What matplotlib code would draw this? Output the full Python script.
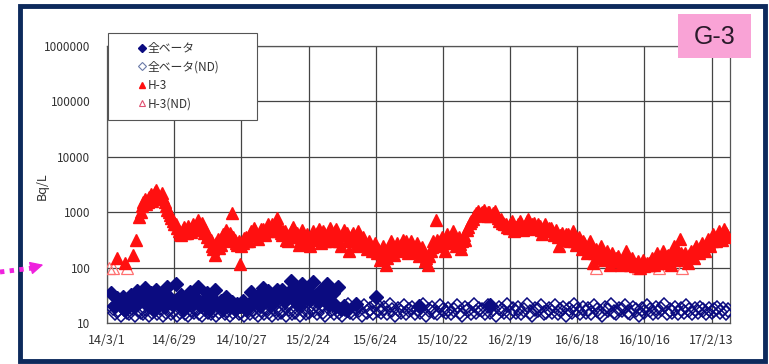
import numpy as np
import pandas as pd
import matplotlib
matplotlib.use("Agg")
import matplotlib.pyplot as plt
from matplotlib.patches import Rectangle, FancyArrowPatch
from matplotlib.lines import Line2D

plt.rcParams['font.family'] = ['Noto Sans CJK JP', 'DejaVu Sans']

# ---- data ----
# H-3, sparse start
h3_early_dates = ['2014-03-19', '2014-04-02', '2014-04-16', '2014-04-22']
h3_early = [150, 120, 170, 320]

# H-3, every 5 days from 2014-04-28
h3_start = '2014-04-28'
h3 = [
    820, 1300, 1700, 1500, 2100, 1800, 2500, 1900, 2200, 1500, 1100, 900, 700,
    600, 450, 380, 550, 420, 500,
    620, 480, 720, 560, 420, 350, 300,
    250, 170, 330, 260, 400, 480,
    380, 950, 320, 260, 115, 280,
    350, 300, 450, 520, 380, 420,
    500, 380, 620, 450, 560, 780,
    500, 380, 450, 300, 420, 550,
    350, 260, 480, 300, 400, 250,
    450, 320, 500, 280, 420, 350,
    520, 300, 450, 380, 250, 480,
    420, 200, 380, 300, 450, 320,
    350, 260, 300, 200, 280, 180,
    140, 250, 110, 200, 300, 170,
    280, 200, 320, 250, 180, 300, 220,
    280, 160, 240, 130, 110, 200,
    300, 720, 250, 350, 200, 400,
    300, 450, 250, 350, 220, 380,
    480, 650, 750, 900, 1050, 950,
    1100, 850, 1000, 900, 1050, 800,
    750, 650, 600, 520, 680, 450,
    550, 700, 480, 620, 750, 500,
    650, 520, 560, 400, 600, 480,
    520, 380, 480, 250, 420, 350,
    400, 300, 450, 260, 350, 220,
    280, 180, 300, 120, 220, 150,
    250, 140, 200, 110, 180, 130,
    160, 110, 140, 200, 120, 150,
    105, 130, 100, 140, 110, 120,
    150, 110, 180, 130, 200, 120,
    170, 110, 250, 140, 330, 150,
    180, 120, 200, 150, 250, 180,
    280, 200, 330, 250, 400, 300,
    450, 320, 500, 380,
]

# H-3, the in-between samples, every 5 days from 2014-04-30
h3_b_start = '2014-04-30'
h3_b = [
    1000, 1500, 1400, 1900, 1600, 2300, 2000, 1700, 1800, 1300, 1000, 800, 600,
    520, 400, 480, 420, 560, 440,
    520, 600, 500, 640, 480, 380, 320,
    220, 280, 230, 350, 300, 420,
    420, 350, 280, 300, 250, 340,
    300, 400, 380, 460, 330, 500,
    420, 520, 480, 600, 450, 620,
    420, 460, 320, 380, 480, 350,
    420, 300, 380, 350, 280, 330,
    380, 420, 330, 450, 300, 400,
    400, 350, 500, 300, 380, 420,
    330, 300, 420, 250, 380, 280,
    280, 220, 260, 240, 200, 220,
    180, 200, 150, 230, 250, 220,
    230, 260, 220, 300, 230, 250, 190,
    220, 200, 170, 150, 160, 240,
    260, 320, 300, 280, 320, 300,
    360, 280, 300, 270, 300, 320,
    550, 700, 850, 950, 900, 1000,
    950, 1000, 850, 950, 900, 700,
    650, 600, 550, 600, 520, 550,
    620, 600, 550, 700, 580, 620,
    550, 600, 480, 520, 450, 520,
    450, 420, 350, 380, 320, 400,
    330, 350, 300, 320, 280, 300,
    230, 240, 200, 180, 190, 200,
    180, 170, 160, 150, 140, 150,
    130, 140, 120, 130, 110, 120,
    115, 110, 120, 105, 120, 110,
    130, 140, 120, 150, 140, 160,
    140, 180, 160, 200, 180, 170,
    150, 170, 180, 220, 200, 230,
    230, 260, 280, 300, 350, 330,
    400, 380, 420, 350,
]

# H-3 below detection limit
h3_nd_dates = ['2014-03-05', '2014-03-12', '2014-04-05', '2016-07-22',
               '2016-10-05', '2016-11-12', '2016-12-22']
h3_nd = [100, 100, 100, 100, 100, 100, 100]

# gross beta (detected), every 5 days from 2014-03-09
beta_start = '2014-03-09'
beta = [
    35, 20, 28, 22, 30, 18, 25, 32, 20, 38, 24, 30,
    42, 22, 35, 18, 40, 26, 33, 20, 45, 28, 22, 50,
    25, 32, 18, 28, 36, 22, 30, 45, 20, 26, 35, 18,
    28, 40, 22, 25, 18, 30, 20, 24, 18, 22, 20, 25,
    18, 22, 36, 24, 30, 20, 43, 26, 38, 22, 30, 40,
    30, 40, 25, 35, 58, 28, 38, 22, 50, 30, 40, 26,
    55, 32, 25, 40, 28, 50, 22, 35, 20, 45, 18, 20, 17,
]
beta_extra_dates = ['2015-05-20', '2015-06-25', '2015-09-10', '2016-01-15']
beta_extra = [22, 30, 20, 21]

# gross beta below detection limit, every 5 days from 2014-03-11
beta_nd_start = '2014-03-11'
beta_nd = [
    19, 15, 17, 14, 18, 16, 15, 19, 14, 17, 16, 15,
    18, 14, 16, 17, 15, 19, 14, 16, 18, 15, 17, 14,
    16, 18, 15, 14, 17, 16, 19, 15, 14, 18, 16, 15,
    17, 14, 16, 19, 15, 17, 14, 16, 18, 15, 16, 14,
    17, 15, 18, 16, 14, 17, 15, 19, 16, 14, 18, 15,
    16, 17, 14, 18, 15, 16, 19, 14, 17, 15, 16, 18,
    17, 15, 19, 16, 14, 22, 17, 15, 20, 16, 14, 18,
    21, 16, 15, 19, 17, 14, 20, 16, 18, 15, 22, 17,
    16, 19, 15, 21, 17, 14, 18, 16, 20, 15, 17, 19,
    15, 18, 16, 21, 14, 17, 19, 16, 15, 20, 17, 16,
    18, 15, 17, 20, 16, 14, 19, 17, 15, 21, 16, 18,
    17, 15, 20, 16, 18, 14, 19, 17, 16, 21, 15, 18,
    16, 19, 15, 17, 21, 16, 14, 18, 17, 20, 15, 16,
    18, 16, 20, 15, 17, 19, 14, 18, 16, 21, 17, 15,
    19, 16, 18, 15, 20, 17, 16, 14, 19, 17, 21, 16,
    15, 18, 17, 20, 16, 15, 19, 17, 14, 18, 16, 20,
    17, 15, 19, 16, 18, 21, 15, 17, 16, 19, 15, 18,
    16, 20, 17, 15, 18, 16, 19, 17, 15, 18, 16, 17,
    19, 16, 18, 15, 17,
]

tick_dates = ['2014-03-01', '2014-06-29', '2014-10-27', '2015-02-24', '2015-06-24',
              '2015-10-22', '2016-02-19', '2016-06-18', '2016-10-16', '2017-02-13']
tick_labels = ['14/3/1', '14/6/29', '14/10/27', '15/2/24', '15/6/24',
               '15/10/22', '16/2/19', '16/6/18', '16/10/16', '17/2/13']
y_ticks = [10, 100, 1000, 10000, 100000, 1000000]
legend_labels = ['全ベータ', '全ベータ(ND)', 'H-3', 'H-3(ND)']

navy = '#0b0b80'
red = '#ff1010'

fig = plt.figure(figsize=(7.69, 3.64), dpi=100)
W, H = 769, 364
ax = fig.add_axes([107 / W, 1 - 323 / H, (730 - 107) / W, (323 - 46) / H])

d_h3 = pd.date_range(h3_start, periods=len(h3), freq='5D')
d_h3_b = pd.date_range(h3_b_start, periods=len(h3_b), freq='5D')
d_beta = pd.date_range(beta_start, periods=len(beta), freq='5D')
d_beta_nd = pd.date_range(beta_nd_start, periods=len(beta_nd), freq='5D')

ax.plot(d_beta_nd, beta_nd, ls='none', marker='D', ms=7, mfc='none',
        mec=navy, mew=1.1, zorder=3)
ax.plot(d_beta, beta, ls='none', marker='D', ms=7.5, color=navy, zorder=4)
ax.plot(pd.to_datetime(beta_extra_dates), beta_extra, ls='none', marker='D',
        ms=7.5, color=navy, zorder=4)
ax.plot(pd.to_datetime(h3_nd_dates), h3_nd, ls='none', marker='^', ms=9,
        mfc='none', mec='#ff7070', mew=0.9, zorder=3)
ax.plot(pd.to_datetime(h3_early_dates), h3_early, ls='none', marker='^', ms=9,
        color=red, zorder=4)
ax.plot(d_h3, h3, ls='none', marker='^', ms=9, color=red, zorder=4)
ax.plot(d_h3_b, h3_b, ls='none', marker='^', ms=9, color=red, zorder=4)

ax.set_yscale('log')
ax.set_ylim(10, 1000000)
ax.set_xlim(pd.Timestamp('2014-03-01'), pd.Timestamp('2017-03-18'))
ax.set_xticks(pd.to_datetime(tick_dates))
ax.set_xticklabels(tick_labels, fontsize=9, color='#333333')
ax.set_yticks(y_ticks)
ax.set_yticklabels([str(v) for v in y_ticks], fontsize=8.5, color='#333333')
ax.minorticks_off()
ax.tick_params(length=0, pad=8)
ax.tick_params(axis='y', pad=12)
ax.grid(True, color='#444444', lw=0.9)
ax.set_axisbelow(True)
for s in ax.spines.values():
    s.set_color('#555555')
    s.set_linewidth(0.9)

fig.text(42 / W, 1 - 186 / H, 'Bq/L', rotation=90, ha='center', va='center',
         fontsize=9, color='#333333')

# legend box
box = Rectangle((108 / W, 1 - 120 / H), (257 - 108) / W, (120 - 33) / H,
                transform=fig.transFigure, facecolor='white', edgecolor='#555555',
                lw=0.8, zorder=5)
fig.patches.append(box)
handles = [
    Line2D([], [], ls='none', marker='D', ms=4, color=navy),
    Line2D([], [], ls='none', marker='D', ms=4, mfc='none', mec='#6a7aa8', mew=0.8),
    Line2D([], [], ls='none', marker='^', ms=5, color=red),
    Line2D([], [], ls='none', marker='^', ms=5, mfc='none', mec='#e05070', mew=0.8),
]
leg = fig.legend(handles, legend_labels, loc='upper left',
                 bbox_to_anchor=(130 / W, 1 - 34 / H), frameon=False,
                 fontsize=8.5, handlelength=0.6, handletextpad=0.2,
                 labelspacing=0.45, borderpad=0.2, labelcolor='#333333')
leg.set_zorder(6)

# G-3 tag
tag = Rectangle((678 / W, 1 - 58 / H), (751 - 678) / W, (58 - 14) / H,
                transform=fig.transFigure, facecolor='#f9a3d6', edgecolor='none',
                zorder=5)
fig.patches.append(tag)
fig.text(714.5 / W, 1 - 37 / H, 'G-3', ha='center', va='center', fontsize=18,
         family=['Liberation Sans', 'DejaVu Sans'], color='#2a1a2a', zorder=6)

# outer frame
frame = Rectangle((20 / W, 1 - 361 / H), (765 - 20) / W, (361 - 6) / H,
                  transform=fig.transFigure, facecolor='none', edgecolor='#0d2a5c',
                  lw=3.5, zorder=7)
fig.patches.append(frame)

# pointer arrow: dotted shaft + solid head
pink = '#ee22dd'
shaft = Line2D([0 / W, 33 / W], [1 - 272 / H, 1 - 268 / H], transform=fig.transFigure,
               color=pink, lw=3.5, ls=(0, (0.9, 1.1)), zorder=8)
fig.lines.append(shaft)
head = FancyArrowPatch((31 / W, 1 - 268 / H), (46 / W, 1 - 264 / H),
                       transform=fig.transFigure, arrowstyle='-|>',
                       mutation_scale=20, color=pink, lw=1, zorder=8)
fig.patches.append(head)

fig.savefig('out.png', dpi=100)
